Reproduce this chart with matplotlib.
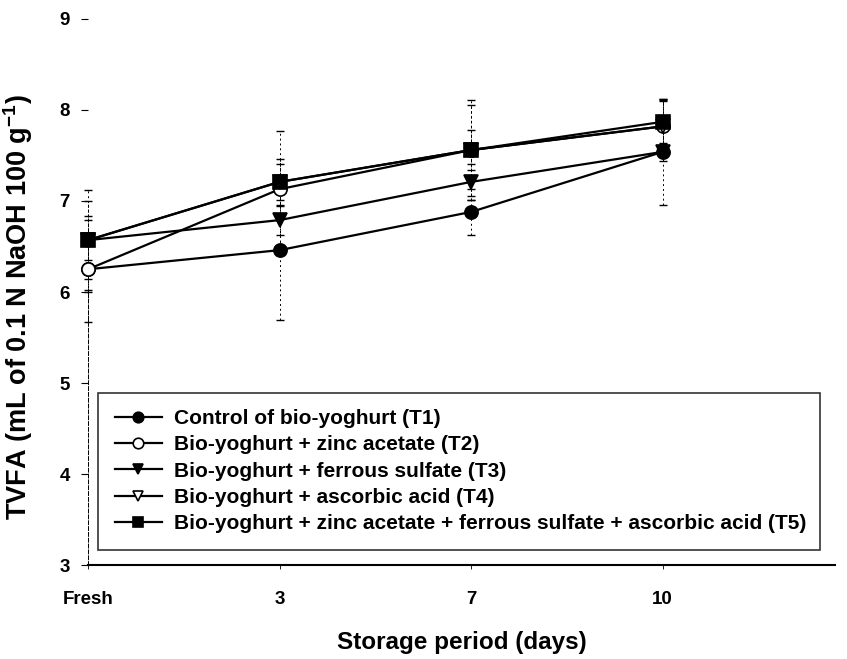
import matplotlib
matplotlib.use("Agg")
import matplotlib.pyplot as plt

plt.rcParams["font.family"] = ["Liberation Sans", "DejaVu Sans"]
plt.rcParams["font.weight"] = "bold"
plt.rcParams["mathtext.fontset"] = "custom"
plt.rcParams["mathtext.rm"] = "Liberation Sans:bold"
plt.rcParams["mathtext.bf"] = "Liberation Sans:bold"

# ---- data
periods = ["Fresh", "3", "7", "10"]
labels = [
    "Control of bio-yoghurt (T1)",
    "Bio-yoghurt + zinc acetate (T2)",
    "Bio-yoghurt + ferrous sulfate (T3)",
    "Bio-yoghurt + ascorbic acid (T4)",
    "Bio-yoghurt + zinc acetate + ferrous sulfate + ascorbic acid (T5)",
]
t1 = [6.25, 6.46, 6.88, 7.54]
t2 = [6.25, 7.13, 7.56, 7.82]
t3 = [6.57, 6.79, 7.21, 7.54]
t4 = [6.57, 7.21, 7.56, 7.82]
t5 = [6.57, 7.21, 7.56, 7.87]
t1_err = [0.58, 0.77, 0.25, 0.58]
t2_err = [0.25, 0.64, 0.55, 0.30]
t3_err = [0.55, 0.16, 0.20, 0.10]
t4_err = [0.43, 0.20, 0.22, 0.28]
t5_err = [0.22, 0.25, 0.50, 0.24]

series = [t1, t2, t3, t4, t5]
errors = [t1_err, t2_err, t3_err, t4_err, t5_err]
markers = ["o", "o", "v", "v", "s"]
faces = ["black", "white", "black", "white", "black"]

xs = list(range(len(periods)))

fig = plt.figure(figsize=(8.47, 6.59), dpi=100)
ax = fig.add_axes([0.104, 0.1426, 0.882, 0.8286])

# thin dotted error bars with short caps
for vals, err in zip(series, errors):
    eb = ax.errorbar(xs, vals, yerr=err, fmt="none", ecolor="black",
                     elinewidth=0.7, capsize=3, capthick=1.0, clip_on=False)
    for lc in eb[2]:
        lc.set_linestyle((0, (2, 3)))

for vals, lab, m, fc in zip(series, labels, markers, faces):
    ax.plot(xs, vals, color="black", lw=1.6, marker=m, ms=9.5,
            mfc=fc, mec="black", mew=1.2, label=lab, clip_on=False)

ax.set_xlim(0, 3.9)
ax.set_ylim(3, 9)
ax.set_xticks(xs)
ax.set_xticklabels(periods, fontsize=13.5, fontweight="bold")
ax.set_yticks(range(3, 10))
ax.set_yticklabels([str(v) for v in range(3, 10)], fontsize=13.5, fontweight="bold")

ax.spines["top"].set_visible(False)
ax.spines["right"].set_visible(False)
ax.spines["bottom"].set_linewidth(1.5)
ax.spines["left"].set_linewidth(0.7)
ax.spines["left"].set_linestyle((0, (4, 2)))
ax.spines["left"].set_bounds(3, 6)
ax.tick_params(axis="y", length=5, width=0.8, pad=8)
ax.tick_params(axis="x", length=3, width=0.6, pad=16)

ax.set_xlabel("Storage period (days)", fontsize=17.5, fontweight="bold", labelpad=16)
ax.set_ylabel(r"TVFA (mL of 0.1 N NaOH 100 g$^{\mathbf{-1}}$)", fontsize=19.5,
              fontweight="bold")
ax.yaxis.set_label_coords(-0.0715, 0.4725)

leg = ax.legend(loc="lower left", bbox_to_anchor=(0.0134, 0.0275, 0.967, 0.306),
                mode="expand", borderaxespad=0, fontsize=15, frameon=True,
                fancybox=False, edgecolor="black", handlelength=2.25,
                handletextpad=0.6, labelspacing=0.35, borderpad=0.8,
                markerscale=0.8)
leg.get_frame().set_linewidth(1.2)
for t in leg.get_texts():
    t.set_fontweight("bold")

fig.savefig("out.png", dpi=100)
